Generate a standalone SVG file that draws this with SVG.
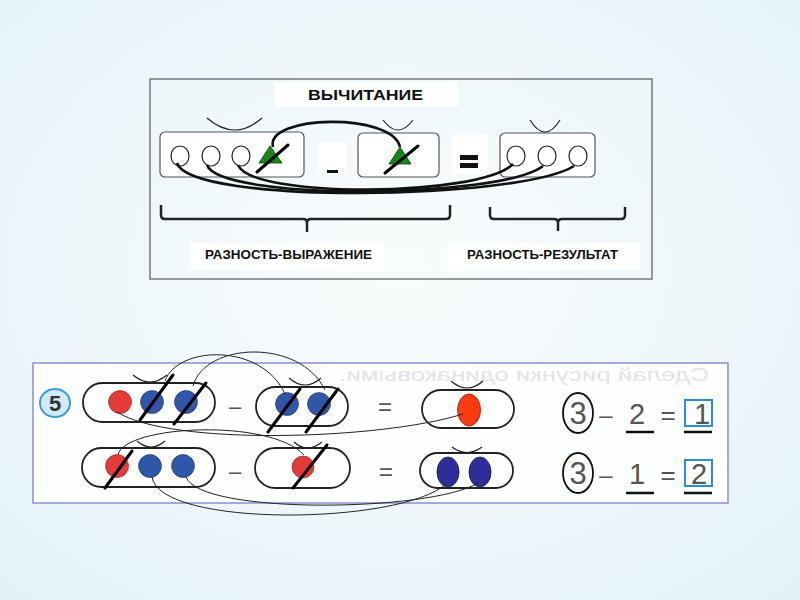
<svg xmlns="http://www.w3.org/2000/svg" width="800" height="600" viewBox="0 0 800 600">
<defs>
<radialGradient id="bg" cx="50%" cy="45%" r="75%"><stop offset="0" stop-color="#f9fcfd"/><stop offset="1" stop-color="#e3f2f8"/></radialGradient>
</defs>
<style>
.box{fill:#fff;stroke:#555;stroke-width:1.2}
.wb{fill:#fff}
.ring{fill:#fff;stroke:#222;stroke-width:1.2}
.cup{fill:none;stroke:#222;stroke-width:1.2}
.tri{fill:#138a13;stroke:#0a3a0a;stroke-width:0.8}
.slash{stroke:#000;stroke-width:3;stroke-linecap:round}
.thick{fill:none;stroke:#111;stroke-width:2.6}
.brace{fill:none;stroke:#222;stroke-width:2.5}
.lbl{font-family:"Liberation Sans",Arial,sans-serif;font-weight:bold;fill:#111}
.pill{fill:#fff;stroke:#222;stroke-width:1.8}
.red{fill:#e63a3a;stroke:#a02020;stroke-width:0.6}
.blue{fill:#2f56a8;stroke:#1c3470;stroke-width:0.6}
.thin{fill:none;stroke:#222;stroke-width:1}
.op{font-family:"Liberation Sans",Arial,sans-serif;fill:#555;text-anchor:middle}
.ul{stroke:#111;stroke-width:2.5}
</style>
<rect width="800" height="600" fill="url(#bg)"/>

<!-- top panel -->
<g id="top-panel">
<rect x="150" y="79" width="502" height="200" fill="none" stroke="#777" stroke-width="1.5"/>
<rect class="wb" x="275" y="82" width="183" height="25"/>
<text class="lbl" x="308" y="100" font-size="14" textLength="115" lengthAdjust="spacingAndGlyphs">ВЫЧИТАНИЕ</text>
</g>
<g id="box1">
<rect class="box" x="160" y="132" width="144" height="45" rx="5"/>
<path class="cup" d="M207,118 Q235,142 262,118"/>
<ellipse class="ring" cx="180" cy="156" rx="9" ry="10"/>
<ellipse class="ring" cx="211" cy="156" rx="9" ry="10"/>
<ellipse class="ring" cx="241" cy="156" rx="9" ry="10"/>
<polygon class="tri" points="270,146 259,163 282,163"/>
<line class="slash" x1="257" y1="172" x2="288" y2="145"/>
</g>
<g id="minus">
<rect class="wb" x="318" y="142" width="29" height="32"/>
<rect x="327" y="170" width="11" height="3" fill="#111"/>
</g>
<g id="box2">
<rect class="box" x="358" y="133" width="81" height="44" rx="5"/>
<path class="cup" d="M383,120 Q398,140 413,120"/>
<polygon class="tri" points="400,147 389,164 411,164"/>
<line class="slash" x1="385" y1="173" x2="418" y2="146"/>
</g>
<g id="equals">
<rect class="wb" x="452" y="135" width="36" height="39"/>
<rect x="460" y="155" width="18" height="5" fill="#111"/>
<rect x="460" y="163" width="18" height="5" fill="#111"/>
</g>
<g id="box3">
<rect class="box" x="500" y="133" width="95" height="44" rx="5"/>
<path class="cup" d="M530,120 Q545,144 560,120"/>
<ellipse class="ring" cx="516" cy="156" rx="9" ry="10"/>
<ellipse class="ring" cx="547" cy="156" rx="9" ry="10"/>
<ellipse class="ring" cx="578" cy="156" rx="9" ry="10"/>
</g>
<g id="top-connectors">
<path class="thick" d="M273,147 C265,115 392,112 400,147"/>
<path class="thick" d="M177,163 C190,205 520,200 574,166"/>
<path class="thick" d="M207,165 C220,201 500,199 543,166"/>
<path class="thick" d="M238,165 C252,199 480,197 513,164"/>
</g>
<g id="braces">
<path class="brace" d="M161,205 L161,215 Q161,219 165,219 L303,219 Q307,219 307,223 L307,232 M307,223 Q307,219 311,219 L446,219 Q450,219 450,215 L450,205"/>
<path class="brace" d="M490,207 L490,215 Q490,219 494,219 L554,219 Q558,219 558,223 L558,231 M558,223 Q558,219 562,219 L621,219 Q625,219 625,215 L625,207"/>
</g>
<g id="label-expr">
<rect class="wb" x="190" y="243" width="194" height="27"/>
<text class="lbl" x="205" y="259" font-size="12.5" textLength="167" lengthAdjust="spacingAndGlyphs">РАЗНОСТЬ-ВЫРАЖЕНИЕ</text>
</g>
<g id="label-result">
<rect class="wb" x="447" y="243" width="193" height="27"/>
<text class="lbl" x="467" y="259" font-size="12.5" textLength="151" lengthAdjust="spacingAndGlyphs">РАЗНОСТЬ-РЕЗУЛЬТАТ</text>
</g>

<!-- bottom panel -->
<g id="bottom-panel">
<rect x="33" y="363" width="695" height="140" fill="#fdfefe" stroke="#8a8ed0" stroke-width="1.5"/>
<text transform="translate(709,381) scale(-1,1)" font-family="'Liberation Sans',Arial,sans-serif" font-size="18" fill="#e2e4e8" textLength="370" lengthAdjust="spacingAndGlyphs">Сделай рисунки одинаковыми.</text>
<ellipse cx="55" cy="403" rx="15" ry="14" fill="#d0eaf6" stroke="#3b9fd6" stroke-width="2"/>
<text x="55" y="411" font-family="'Liberation Sans',Arial,sans-serif" font-weight="bold" font-size="22" fill="#333" text-anchor="middle">5</text>
</g>
<g id="r1-pill1">
<rect class="pill" x="83" y="383" width="132" height="39" rx="19.5"/>
<path class="cup" d="M133,375 Q150,389 167,375"/>
<circle class="red" cx="120" cy="402" r="11.5"/>
<circle class="blue" cx="152" cy="402" r="11.5"/>
<circle class="blue" cx="186" cy="402" r="11.5"/>
<line class="slash" x1="140" y1="420" x2="173" y2="375"/>
<line class="slash" x1="174" y1="424" x2="206" y2="383"/>
</g>
<text class="op" x="235" y="414" font-size="22">–</text>
<g id="r1-pill2">
<rect class="pill" x="256" y="387" width="92" height="39" rx="19.5"/>
<path class="cup" d="M289,378 Q305,392 321,378"/>
<circle class="blue" cx="287" cy="404" r="11.5"/>
<circle class="blue" cx="319" cy="404" r="11.5"/>
<line class="slash" x1="268" y1="432" x2="300" y2="389"/>
<line class="slash" x1="306" y1="432" x2="338" y2="389"/>
</g>
<text class="op" x="385" y="415" font-size="24">=</text>
<g id="r1-pill3">
<rect class="pill" x="422" y="390" width="92" height="38" rx="19"/>
<path class="cup" d="M451,381 Q467,395 483,381"/>
<ellipse cx="469" cy="410" rx="11.5" ry="16" fill="#ff3a10" stroke="#8a1a00" stroke-width="0.8"/>
</g>
<g id="r2-pill1">
<rect class="pill" x="82" y="448" width="133" height="39" rx="19.5"/>
<path class="cup" d="M137,441 Q151,453 165,441"/>
<circle class="red" cx="117" cy="466" r="11.5"/>
<circle class="blue" cx="150" cy="466" r="11.5"/>
<circle class="blue" cx="183" cy="466" r="11.5"/>
<line class="slash" x1="105" y1="488" x2="132" y2="451"/>
</g>
<text class="op" x="235" y="479" font-size="22">–</text>
<g id="r2-pill2">
<rect class="pill" x="255" y="448" width="95" height="40" rx="20"/>
<path class="cup" d="M294,442 Q307,454 322,442"/>
<circle class="red" cx="303" cy="467" r="11"/>
<line class="slash" x1="293" y1="488" x2="327" y2="445"/>
</g>
<text class="op" x="386" y="480" font-size="24">=</text>
<g id="r2-pill3">
<rect class="pill" x="420" y="453" width="93" height="35" rx="17.5"/>
<path class="cup" d="M452,447 Q467,458 482,447"/>
<ellipse cx="448" cy="472" rx="11" ry="15" fill="#2d2d9c" stroke="#15154a" stroke-width="0.8"/>
<ellipse cx="480" cy="472" rx="11" ry="15" fill="#2d2d9c" stroke="#15154a" stroke-width="0.8"/>
</g>
<g id="bottom-connectors">
<path class="thin" d="M165,381 C178,345 262,343 285,394"/>
<path class="thin" d="M193,386 C205,342 300,338 325,390"/>
<path class="thin" d="M117,412 C170,446 380,440 463,414"/>
<path class="thin" d="M118,455 C124,425 270,418 304,455"/>
<path class="thin" d="M152,477 C160,528 400,525 446,484"/>
<path class="thin" d="M186,477 C200,515 430,512 478,483"/>
</g>
<g id="eq1">
<ellipse cx="578" cy="413" rx="15" ry="20" fill="none" stroke="#111" stroke-width="1.8"/>
<text class="op" x="578" y="424" font-size="31">3</text>
<text class="op" x="606" y="423" font-size="24">–</text>
<text class="op" x="637" y="424" font-size="29">2</text>
<text class="op" x="668" y="424" font-size="26">=</text>
<rect x="685" y="400" width="27" height="26" fill="#fff" stroke="#2a90d8" stroke-width="2"/>
<text class="op" x="702" y="424" font-size="29" fill="#333">1</text>
<line class="ul" x1="626" y1="432" x2="654" y2="432"/>
<line class="ul" x1="684" y1="432" x2="712" y2="432"/>
</g>
<g id="eq2">
<ellipse cx="578" cy="473" rx="15" ry="20" fill="none" stroke="#111" stroke-width="1.8"/>
<text class="op" x="578" y="484" font-size="31">3</text>
<text class="op" x="606" y="483" font-size="24">–</text>
<text class="op" x="637" y="484" font-size="29">1</text>
<text class="op" x="668" y="484" font-size="26">=</text>
<rect x="685" y="460" width="27" height="26" fill="#fff" stroke="#2a90d8" stroke-width="2"/>
<text class="op" x="699" y="484" font-size="29" fill="#333">2</text>
<line class="ul" x1="626" y1="493" x2="654" y2="493"/>
<line class="ul" x1="684" y1="493" x2="712" y2="493"/>
</g>
</svg>
